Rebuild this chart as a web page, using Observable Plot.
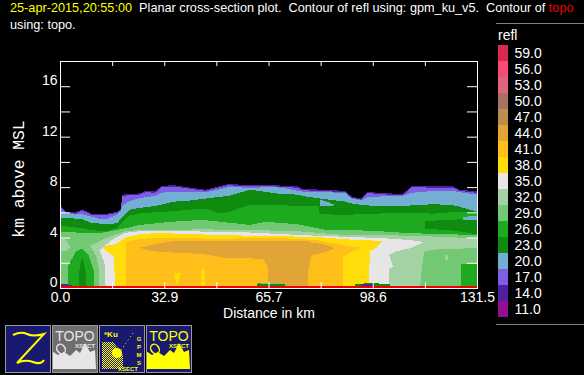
<!DOCTYPE html>
<html><head><meta charset="utf-8">
<script src="https://cdn.jsdelivr.net/npm/d3@7"></script>
<script src="https://cdn.jsdelivr.net/npm/@observablehq/plot@0.6"></script>
<style>
html,body{margin:0;padding:0;background:#000;width:584px;height:375px;overflow:hidden}
#root{position:relative;width:584px;height:375px;font-family:"Liberation Sans",sans-serif;color:#fff}
#root>*{position:absolute}
.t{white-space:pre;font-size:12.7px;line-height:14px}
svg{display:block}
</style></head><body><div id="root"></div>
<script>
const levels=[59,56,53,50,47,44,41,38,35,32,29,26,23,20,17,14,11];
const colors=["#d9294f","#f54b75","#e1647d","#a5735f","#be8c50","#e1a537","#ffbe19","#ffdc0a","#e6e6e6","#a5d2a5","#73c873","#1eaa1e","#0f8c0f","#73afd2","#7d5fe6","#50209f","#910f91"];
const xTicks=[0,32.875,65.75,98.625,131.5];
const xTickLabels=["0.0","32.9","65.7","98.6","131.5"];
const xMinor=[16.4375,32.875,49.3125,65.75,82.1875,98.625,115.0625];
const yMinor=[2,4,6,8,10,12,14,16];
const yLabelled=[0,4,8,12,16];

const xUp=[0,2,5,7,10,13,15,18,19.3,19.5,22,25,27,30,32,36,40,46,50,53,60,68,71,75,76.5,82,90,92,95,97,100,108,111,118,124,126,131.5];
const top14=[6.6,6.05,6.0,6.25,5.9,5.85,5.9,6.05,6.3,7.4,7.45,7.5,7.7,7.65,8.1,8.15,8.0,7.8,8.05,8.25,8.15,8.15,8.1,8.05,7.85,7.8,7.7,7.25,7.1,7.65,7.55,7.45,8.1,8.05,8.05,7.8,7.65];
const top17=[6.5,5.95,5.9,6.15,5.8,5.75,5.8,5.95,6.2,7.3,7.35,7.4,7.6,7.55,8.0,8.05,7.9,7.7,7.95,8.15,8.05,8.05,8.0,7.95,7.75,7.7,7.6,7.15,7.0,7.55,7.45,7.35,8.0,7.95,7.95,7.7,7.55];
const top20=[6.05,5.95,5.85,5.85,5.65,5.45,5.5,5.8,6.2,6.5,6.9,7.1,7.2,7.3,7.55,7.65,7.65,7.6,7.8,8.0,7.95,8.0,7.9,7.7,7.65,7.65,7.5,7.1,6.95,7.2,7.25,7.3,7.55,7.7,7.7,7.6,7.4];
const x23=[0,2,5,7,10,13,15,18,19.5,22,25,30,36,40,46,53,60,68,75,76.5,82,90,92,95,97,100,108,111,118,124,126,131.5];
const top23=[5.6,5.55,5.5,5.45,5.15,5.1,5.05,5.15,5.55,6.2,6.35,6.5,6.85,6.9,7.1,7.3,7.8,7.5,7.4,7.3,7.1,6.85,6.7,6.6,6.55,6.5,6.5,6.55,6.65,6.55,6.45,6.05];
const x26=[0,2,5,7,10,13,15,18,19.5,22,25,30,36,40,46,50,53,60,68,71,75,76.5,81.5,82,90,100,108,118,126,131.5];
const top26=[4.9,4.88,4.8,4.75,4.6,4.5,4.55,4.75,5.2,5.75,5.9,6.0,6.1,6.2,6.3,5.95,6.0,6.6,6.6,6.55,6.5,6.5,6.5,5.85,5.8,5.9,5.95,5.9,6.05,5.9];
const x29=[0,5,10,12,15,20,25,35,45,60,65,75,84,98,110,131.5];
const top29=[4.45,4.4,4.4,4.35,4.45,4.7,5.0,5.25,5.4,5.0,5.25,5.05,4.6,4.55,4.35,4.2];
const x32=[9.5,10.9,11.5,12.3,12.4,14,17,20,22,30,45,60,75,90,112.4,113.5,114.5,115,120,131.5];
const top32=[3.4,3.5,3.6,3.7,3.7,3.9,4.2,4.45,4.55,4.6,4.65,4.6,4.5,4.2,4.15,4.14,4.12,4.12,4.05,3.95];
const bot32=[3.4,2.75,2.5,1.5,0,0,0,0,0,0,0,0,0,0,0,0,2.3,2.9,3.1,3.15];
const x35=[12.5,14,14.4,16,18,20,22,30,40,50,60,75.6,91,101.9,103.6,103.7,105,103.8,106,110.3,114.5];
const top35=[3.0,3.3,3.4,3.75,4.05,4.3,4.45,4.55,4.5,4.45,4.4,4.2,4.05,3.95,3.92,3.92,3.9,3.9,3.88,3.8,3.65];
const bot35=[2.9,2.1,0,0,0,0,0,0,0,0,0,0,0,0,0,1.45,1.7,2.6,2.9,3.15,3.6];
const x38=[14,15,17,17.4,19,20.5,22,25,30,40,50,60,80.8,91,97.4,97.7,99.8,101.4];
const top38=[3.3,3.4,3.45,3.5,3.7,4.0,4.1,4.25,4.35,4.3,4.2,4.15,4.05,3.85,3.78,3.78,3.74,3.7];
const bot38=[3.05,2.85,2.5,0,0,0,0,0,0,0,0,0,0,0,0,2.9,3.2,3.65];
const x41=[20.7,22,25,30,40,50,60,70,80.8,87.2,89.3,89.4,91.4,94.5];
const top41=[3.5,3.7,3.9,3.95,3.95,3.9,3.95,3.95,3.8,3.5,3.4,3.4,3.3,3.2];
const bot41=[0,0,0,0,0,0,0,0,0,0,0,2.5,2.8,3.15];
const x44=[24.9,27,30,36.7,45,53,59.8,64,65.6,65.7,78.2,78.3,79.3,82.4,85,86.6];
const top44=[3.2,3.3,3.5,3.75,3.75,3.75,3.73,3.73,3.73,3.73,3.7,3.7,3.6,3.5,3.35,3.15];
const bot44=[3.2,3.05,2.9,2.8,2.7,2.35,2.35,2.3,1.7,0,0,1.4,2.6,2.75,2.95,3.15];

function area(level,x,top,bot){
  return Plot.areaY(x.map((v,i)=>({x:v,t:top[i],b:bot?bot[i]:0,level})),
    {x:"x",y1:"b",y2:"t",fill:"level",shapeRendering:"crispEdges"});
}
const red=[{x:0,y:0.18},{x:32.8,y:0.18},{x:32.9,y:0.12},{x:131.5,y:0.12}];

const chart=Plot.plot({
  width:584,height:375,marginLeft:60,marginTop:61,marginRight:107,marginBottom:87,
  style:{background:"#000",color:"#fff",fontFamily:"Liberation Sans",fontSize:"14px"},
  x:{domain:[0,131.5],axis:null},
  y:{domain:[0,18],axis:null},
  color:{type:"ordinal",domain:levels,range:colors},
  marks:[
    area(14,xUp,top14),
    area(17,xUp,top17),
    area(20,xUp,top20),
    area(23,x23,top23),
    area(26,x26,top26),
    area(23,[115,122,127,131.5],[5.3,5.4,5.45,5.4],[4.7,4.6,4.45,4.25]),
    area(20,[127,131.5],[5.65,5.7],[5.4,5.4]),
    area(20,[82,84,86.6],[7.0,6.85,6.6],[6.5,6.5,6.55]),
    area(29,x29,top29),
    area(26,[126.6,127,131.5],[1.9,1.9,1.9]),
    area(32,x32,top32,bot32),
    area(32,[0,1.5,2.5,3.2],[3.9,3.85,3.6,3.3],[2.9,2.9,3.0,3.2]),
    area(26,[2.5,3.5,5,7,9,10,10.7],[1.7,2.2,2.9,3.15,2.6,1.9,1.3]),
    area(23,[6,6.5,7,7.5,8.2],[1.2,2.0,2.4,2.0,1.2]),
    area(35,x35,top35,bot35),
    area(32,[121.5,122.5],[2.6,2.6],[2.2,2.2]),
    area(38,x38,top38,bot38),
    area(41,x41,top41,bot41),
    area(38,[36,37,38],[1.15,1.15,1.15],[1.1,0.15,1.1]),
    area(38,[44.5,45.8],[1.5,1.5],[0.1,0.1]),
    area(44,x44,top44,bot44),
    area(23,[62,66,71],[0.35,0.4,0.3],[0.12,0.12,0.12]),
    area(29,[63,68,70],[0.38,0.42,0.35],[0.3,0.3,0.28]),
    area(23,[93,98,104],[0.3,0.4,0.3],[0.12,0.12,0.12]),
    area(14,[95,99],[0.3,0.3],[0.15,0.15]),
    area(14,[0,2,5],[0.35,0.3,0.12],[0.12,0.12,0.12]),
    Plot.areaY(red,{x:"x",y:"y",fill:"#f00000",shapeRendering:"crispEdges"}),
    Plot.ruleX(xMinor,{x:d=>d,y1:()=>0,y2:()=>0.45,stroke:"#ffffff",strokeWidth:1}),
    Plot.ruleX(xMinor,{x:d=>d,y1:()=>17.6,y2:()=>18,stroke:"#ffffff",strokeWidth:1}),
    Plot.ruleY(yMinor,{y:d=>d,x1:()=>0,x2:()=>3.16,stroke:"#ffffff",strokeWidth:1}),
    Plot.ruleY(yMinor,{y:d=>d,x1:()=>128.34,x2:()=>131.5,stroke:"#ffffff",strokeWidth:1}),
    Plot.frame({stroke:"#fff"}),
    Plot.axisX(xTicks,{anchor:"bottom",tickSize:0,tickPadding:4,tickFormat:d=>xTickLabels[xTicks.indexOf(d)],label:null,fontSize:14}),
    Plot.axisY(yLabelled,{anchor:"left",tickSize:0,tickPadding:3,label:null,fontSize:14,dy:-6}),
    Plot.text(["Distance in km"],{frameAnchor:"bottom",dy:20,text:d=>d,fontSize:14,fill:"#fff",lineAnchor:"top"}),
    Plot.text(["km above MSL"],{frameAnchor:"left",dx:-42,dy:4,rotate:-90,textAnchor:"middle",text:d=>d,fontSize:16.3,fill:"#fff",fontFamily:"Liberation Mono"})
  ]
});
const root=document.getElementById("root");
chart.style.left="0";chart.style.top="0";
root.appendChild(chart);

const legend=Plot.plot({
  width:94,height:272,marginLeft:8,marginRight:76,marginTop:0,marginBottom:0,
  style:{background:"transparent",color:"#fff",fontFamily:"Liberation Sans",fontSize:"14px"},
  x:{domain:[0,1],axis:null},
  y:{type:"band",domain:levels,padding:0,axis:null},
  color:{type:"ordinal",domain:levels,range:colors},
  marks:[
    Plot.barX(levels,{x1:0,x2:1,y:d=>d,fill:d=>d,inset:0,shapeRendering:"crispEdges"}),
    Plot.axisY(levels,{anchor:"right",tickSize:0,tickPadding:6,label:null,fontSize:14,tickFormat:d=>d.toFixed(1)})
  ]
});
legend.style.left="490px";legend.style.top="45px";
root.appendChild(legend);

function put(html,left,top,cls){const d=document.createElement("div");d.className=cls||"";d.innerHTML=html;d.style.left=left+"px";d.style.top=top+"px";root.appendChild(d);return d;}
put('<span style="color:#ffff00">25-apr-2015,20:55:00</span><span>  Planar cross-section plot.  Contour of refl using: gpm_ku_v5.  Contour of </span><span style="color:#f00000">topo</span>',10,1,"t");
put('using: topo.',10,18,"t");
put('refl',498,27,"").style.fontSize="14px";
const line=(y)=>{const d=put('',496,y,"");d.style.width="88px";d.style.height="1px";d.style.background="#808080";};
line(23);line(324);

const peaks="0,26 6,30 12,27 18,31 24,25 28,28 33,18 38,27 43,25 44,44 0,44";
const dish=c=>`<ellipse cx="9" cy="24" rx="4" ry="5" fill="none" stroke="${c}" stroke-width="1.5" transform="rotate(-35 9 24)"/>`;
const icons=[
 `<rect width="46" height="48" fill="#191970"/><path d="M8 10 Q16 6 22 9 T39 9 L12 38 Q20 34 28 37 T39 35" fill="none" stroke="#ff0" stroke-width="2"/>`,
 `<rect width="46" height="48" fill="#6e6e6e"/><text x="23" y="16" fill="#e6e6e6" font-size="14" text-anchor="middle">TOPO</text><text x="33" y="23" fill="#e6e6e6" font-size="6" font-weight="bold" text-anchor="middle">XSECT</text><polygon points="${peaks}" fill="#e6e6e6"/>${dish("#e6e6e6")}`,
 `<defs><pattern id="ck" width="2" height="2" patternUnits="userSpaceOnUse"><rect width="1" height="1" fill="#ff0"/><rect x="1" y="1" width="1" height="1" fill="#ff0"/></pattern></defs><rect width="46" height="48" fill="#191970"/><text x="5" y="12" fill="#ff0" font-size="8" font-weight="bold">*Ku</text><text x="40" y="16" fill="#ff0" font-size="6" font-weight="bold" text-anchor="middle">G</text><text x="40" y="24" fill="#ff0" font-size="6" font-weight="bold" text-anchor="middle">P</text><text x="40" y="32" fill="#ff0" font-size="6" font-weight="bold" text-anchor="middle">M</text><text x="40" y="40" fill="#ff0" font-size="6" font-weight="bold" text-anchor="middle">S</text><text x="29" y="46" fill="#ff0" font-size="6" font-weight="bold" text-anchor="middle">XSECT</text><path d="M3 17 L14 17 L24 30 L24 44 L3 44Z" fill="url(#ck)"/><circle cx="18" cy="28" r="5" fill="#ff0"/><path d="M34 8 L20 28" stroke="#ff0" stroke-dasharray="1 3"/>`,
 `<rect width="46" height="48" fill="#191970"/><text x="23" y="16" fill="#ff0" font-size="14" text-anchor="middle">TOPO</text><text x="33" y="23" fill="#ff0" font-size="6" font-weight="bold" text-anchor="middle">XSECT</text><polygon points="${peaks}" fill="#ff0"/>${dish("#ff0")}`
];
icons.forEach((s,i)=>{
  put(`<svg width="46" height="48" viewBox="0 0 46 48" font-family="Liberation Sans">${s}<rect x=".5" y=".5" width="45" height="47" fill="none" stroke="#999"/></svg>`,5+47*i,325,"");
});
</script></body></html>
